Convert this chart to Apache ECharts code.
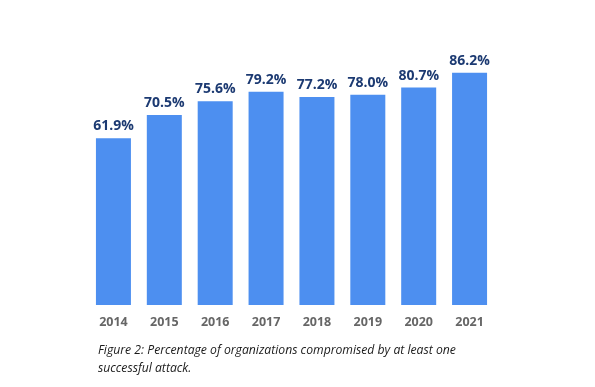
<!DOCTYPE html>
<html><head><meta charset="utf-8">
<script src="https://cdn.jsdelivr.net/npm/echarts@6/dist/echarts.min.js"></script>
<style>html,body{margin:0;padding:0;background:#fff}#c{width:595px;height:387px}</style>
</head><body><div id="c"></div>
<script>
const categories = ['2014','2015','2016','2017','2018','2019','2020','2021'];
const values = [61.9, 70.5, 75.6, 79.2, 77.2, 78.0, 80.7, 86.2];
const caption = 'Figure 2: Percentage of organizations compromised by at least one\nsuccessful attack.';

const chart = echarts.init(document.getElementById('c'), null, {renderer:'canvas'});
chart.setOption({
  animation: false,
  backgroundColor: '#fff',
  title: {
    text: caption, left: 93, top: 337,
    textStyle: {fontFamily: 'Open Sans', fontStyle: 'italic', fontWeight: 'normal', fontSize: 12.2, color: '#1a1a1a', lineHeight: 18}
  },
  grid: {left: 88, right: 100, top: 35.6, bottom: 82},
  xAxis: {
    type: 'category', data: categories,
    axisLine: {show: false}, axisTick: {show: false},
    axisLabel: {color: '#666', fontFamily: 'Open Sans', fontWeight: 'bold', fontSize: 12.5, margin: 11}
  },
  yAxis: {type: 'value', min: 0, max: 100, show: false, splitLine: {show: false}},
  series: [{
    type: 'bar', data: values, barWidth: 35,
    itemStyle: {color: '#4d8ff0'},
    label: {show: true, position: 'top', distance: 5, formatter: p => p.value.toFixed(1) + '%',
      color: '#1c3a72', fontFamily: 'Open Sans', fontWeight: 'bold', fontSize: 14}
  }]
});
</script></body></html>
